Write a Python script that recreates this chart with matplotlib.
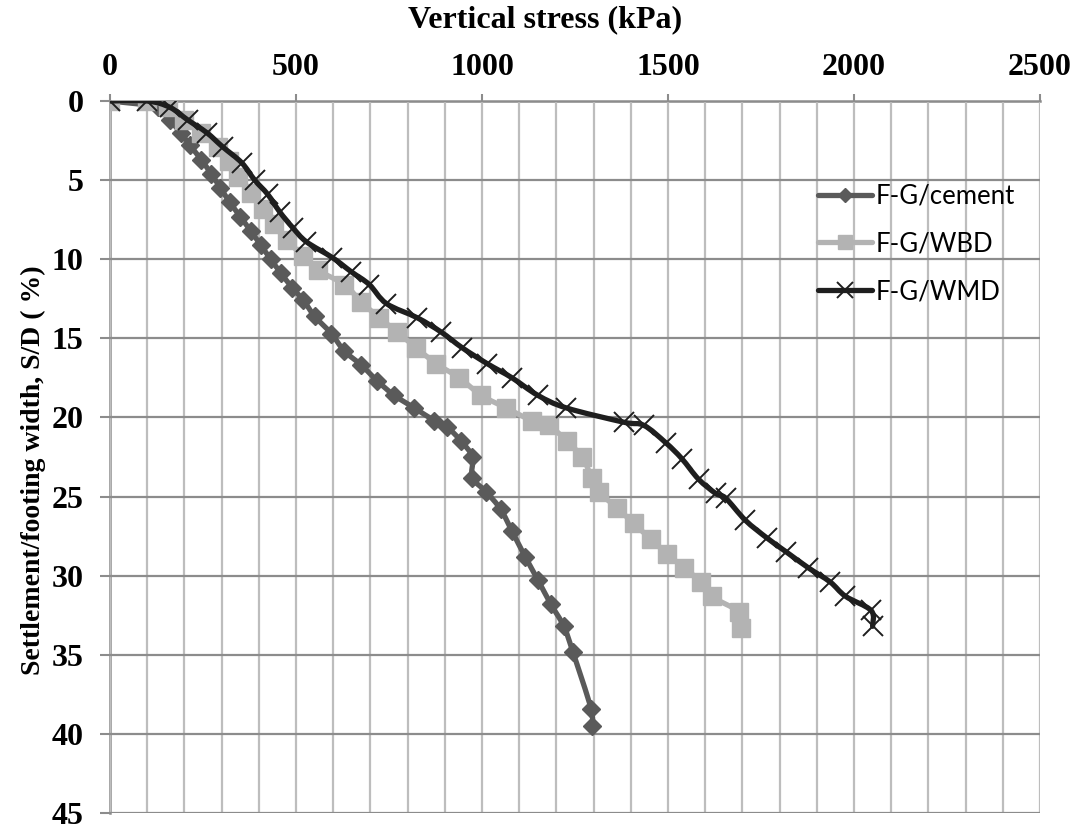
import numpy as np
import matplotlib
matplotlib.use("Agg")
import matplotlib.pyplot as plt
from matplotlib.path import Path
from matplotlib.patches import PathPatch
from matplotlib.ticker import MultipleLocator

# Settlement ratio S/D (%) against applied vertical stress (kPa)
cement_stress = [0, 130, 160, 190, 215, 245, 272, 297, 322, 350, 378, 405, 432,
                 460, 490, 520, 550, 595, 630, 676, 719, 764, 818, 872, 906, 944,
                 974, 974, 1011, 1050, 1081, 1116, 1151, 1185, 1220, 1244, 1293, 1295]
cement_settle = [0, 0.4, 1.2, 2.0, 2.8, 3.7, 4.6, 5.5, 6.4, 7.3, 8.2, 9.1, 10.0,
                 10.9, 11.8, 12.6, 13.6, 14.7, 15.8, 16.7, 17.7, 18.6, 19.4, 20.2, 20.6, 21.5,
                 22.5, 23.8, 24.7, 25.8, 27.2, 28.8, 30.3, 31.8, 33.2, 34.8, 38.4, 39.5]

wbd_stress = [0, 100, 155, 200, 245, 290, 320, 345, 380, 410, 440, 475, 520, 560,
              630, 676, 724, 772, 823, 877, 939, 998, 1065, 1134, 1180, 1228, 1269,
              1295, 1314, 1362, 1408, 1454, 1497, 1542, 1590, 1617, 1690, 1695]
wbd_settle = [0, 0, 0.4, 1.2, 2.0, 2.9, 3.8, 4.8, 5.8, 6.8, 7.8, 8.8, 9.8, 10.7,
              11.6, 12.7, 13.7, 14.6, 15.6, 16.6, 17.5, 18.6, 19.4, 20.2, 20.5, 21.5, 22.5,
              23.8, 24.7, 25.7, 26.7, 27.7, 28.6, 29.5, 30.4, 31.3, 32.3, 33.3]

wmd_stress = [0, 100, 161, 209, 260, 303, 354, 389, 424, 456, 491, 528, 598, 649,
              697, 743, 826, 890, 947, 1014, 1081, 1150, 1227, 1381, 1435, 1494, 1537,
              1582, 1628, 1655, 1708, 1765, 1818, 1877, 1936, 1977, 2046, 2050]
wmd_settle = [0, 0, 0.4, 1.2, 2.0, 2.9, 3.9, 5.0, 5.9, 7.0, 8.0, 8.9, 9.9, 10.8,
              11.6, 12.8, 13.7, 14.6, 15.6, 16.6, 17.5, 18.6, 19.4, 20.3, 20.5, 21.6, 22.6,
              23.9, 24.8, 25.1, 26.5, 27.6, 28.5, 29.5, 30.4, 31.3, 32.2, 33.2]

series_labels = ["F-G/cement", "F-G/WBD", "F-G/WMD"]
x_ticks = [0, 500, 1000, 1500, 2000, 2500]
y_ticks = [0, 5, 10, 15, 20, 25, 30, 35, 40, 45]

SERIF = ["Liberation Serif", "DejaVu Serif"]
SANS = ["Lato", "DejaVu Sans"]


def smooth_path(xs, ys):
    """Catmull-Rom curve through the points, as cubic Bezier segments."""
    p = np.column_stack([xs, ys]).astype(float)
    n = len(p)
    verts = [p[0]]
    codes = [Path.MOVETO]
    for i in range(n - 1):
        p0 = p[i - 1] if i > 0 else p[i]
        p1, p2 = p[i], p[i + 1]
        p3 = p[i + 2] if i + 2 < n else p[i + 1]
        verts += [p1 + (p2 - p0) / 6.0, p2 - (p3 - p1) / 6.0, p2]
        codes += [Path.CURVE4] * 3
    return Path(verts, codes)


fig = plt.figure(figsize=(10.81, 8.27), dpi=100)
ax = fig.add_axes([110 / 1081, 1 - 813 / 827, 930 / 1081, 712 / 827])

ax.set_xlim(0, 2500)
ax.set_ylim(45, 0)

grid_dark = "#8c8c8c"
grid_light = "#bdbdbd"

ax.xaxis.set_major_locator(MultipleLocator(500))
ax.xaxis.set_minor_locator(MultipleLocator(100))
ax.yaxis.set_major_locator(MultipleLocator(5))
ax.grid(which="minor", axis="x", color=grid_light, lw=1.6)
ax.grid(which="major", axis="x", color=grid_light, lw=1.6)
ax.grid(which="major", axis="y", color=grid_dark, lw=1.6)
ax.set_axisbelow(True)

for side in ["bottom", "right"]:
    ax.spines[side].set_visible(False)
for side in ["top", "left"]:
    ax.spines[side].set_color(grid_dark)
    ax.spines[side].set_linewidth(1.8)
ax.spines["top"].set_zorder(0.5)
ax.spines["left"].set_zorder(0.5)

ax.xaxis.tick_top()
ax.tick_params(axis="x", which="major", direction="out", length=5, width=1.5,
               color=grid_dark, pad=9)
ax.tick_params(axis="x", which="minor", length=0)
ax.tick_params(axis="y", which="major", direction="out", length=7, width=1.5,
               color=grid_dark, pad=12)
ax.set_xticks(x_ticks)
ax.set_yticks(y_ticks)
for lab in ax.get_xticklabels() + ax.get_yticklabels():
    lab.set_fontfamily(SERIF)
    lab.set_fontweight("bold")
    lab.set_fontsize(23)

fig.text(545 / 1081, 1 - 20 / 827, "Vertical stress (kPa)", fontfamily=SERIF,
         fontweight="bold", fontsize=23, ha="center", va="center")
ax.set_ylabel("Settlement/footing width, S/D ( %)", fontfamily=SERIF,
              fontweight="bold", fontsize=20)
ax.yaxis.set_label_coords(-(110 - 46) / 930, 1 - (470 - 101) / 712)

series = [
    (cement_stress, cement_settle, "#5a5a5a", "D", 9, dict(mfc="#5a5a5a", mec="#5a5a5a")),
    (wbd_stress, wbd_settle, "#b3b3b3", "s", 13, dict(mfc="#b3b3b3", mec="#b3b3b3")),
    (wmd_stress, wmd_settle, "#1e1e1e", "x", 14, dict(mec="#1e1e1e", mew=1.4)),
]

handles = []
for k, (xs, ys, col, mk, ms, mkw) in enumerate(series):
    z = 3 + k
    ax.add_patch(PathPatch(smooth_path(xs, ys), facecolor="none", edgecolor=col,
                           lw=3.8, capstyle="round", joinstyle="round", zorder=z))
    ax.plot(xs, ys, linestyle="none", marker=mk, ms=ms, zorder=z + 0.5, **mkw)
    h, = ax.plot([], [], color=col, lw=3.8, solid_capstyle="round",
                 marker=mk, ms=ms * 0.8, **mkw)
    handles.append(h)

ax.legend(handles, series_labels, loc="upper left",
          bbox_to_anchor=(805 / 1081, 1 - 171 / 827), bbox_transform=fig.transFigure,
          frameon=False, prop={"family": SANS, "size": 18.5},
          handlelength=2.1, handletextpad=0.15, labelspacing=0.88, borderpad=0)

fig.savefig("out.png", dpi=100)
